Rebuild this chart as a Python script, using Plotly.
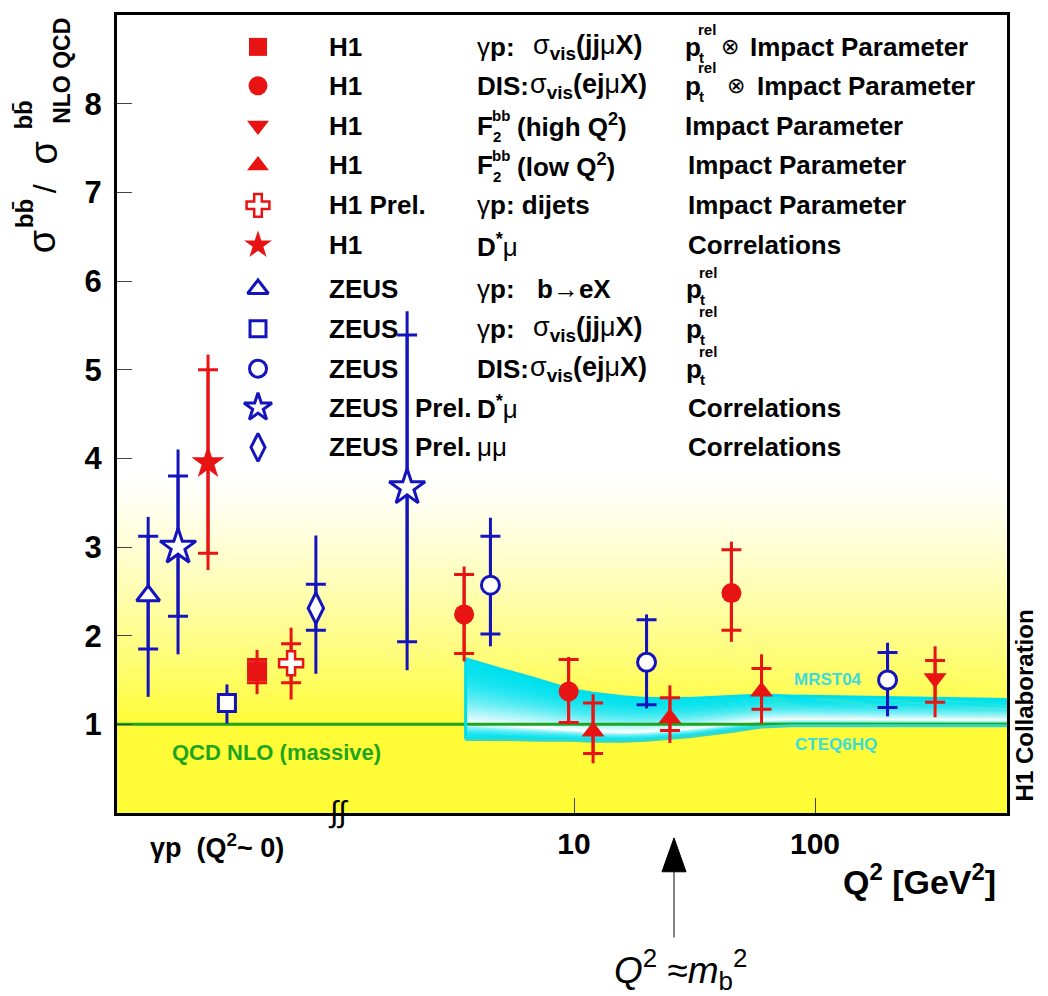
import plotly.graph_objects as go

# ---------------- data ----------------
# ratio sigma(bb)/sigma_NLO(bb) ; inner ticks = stat. error, full bar = total error
# photoproduction points (Q^2 ~ 0) sit at display slots left of the axis break

# H1  gamma-p  sigma_vis(jj mu X)          (filled square)
h1_gpjj_q2 = [0.484]
h1_gpjj_r = [1.60]
h1_gpjj_st_up = [0.13]
h1_gpjj_st_dn = [0.13]
h1_gpjj_tot_up = [0.24]
h1_gpjj_tot_dn = [0.26]

# H1  DIS  sigma_vis(e j mu X)             (filled circle)
h1_dis_q2 = [3.5, 9.5, 45]
h1_dis_r = [2.24, 1.37, 2.48]
h1_dis_st_up = [0.45, 0.36, 0.49]
h1_dis_st_dn = [0.44, 0.35, 0.42]
h1_dis_tot_up = [0.54, 0.39, 0.58]
h1_dis_tot_dn = [0.53, 0.37, 0.55]

# H1  F2bb (high Q2)                       (filled down triangle)
h1_f2hi_q2 = [315]
h1_f2hi_r = [1.52]
h1_f2hi_st_up = [0.20]
h1_f2hi_st_dn = [0.27]
h1_f2hi_tot_up = [0.36]
h1_f2hi_tot_dn = [0.44]

# H1  F2bb (low Q2)                        (filled up triangle)
h1_f2lo_q2 = [12, 25, 60]
h1_f2lo_r = [0.92, 1.07, 1.37]
h1_f2lo_st_up = [0.32, 0.23, 0.26]
h1_f2lo_st_dn = [0.25, 0.14, 0.20]
h1_f2lo_tot_up = [0.42, 0.37, 0.42]
h1_f2lo_tot_dn = [0.36, 0.28, 0.36]

# H1 Prel.  gamma-p dijets                 (open cross)
h1_dij_q2 = [0.670]
h1_dij_r = [1.69]
h1_dij_st_up = [0.22]
h1_dij_st_dn = [0.22]
h1_dij_tot_up = [0.40]
h1_dij_tot_dn = [0.41]

# H1  D* mu                                (filled star)
h1_dsmu_q2 = [0.303]
h1_dsmu_r = [3.95]
h1_dsmu_st_up = [1.05]
h1_dsmu_st_dn = [1.02]
h1_dsmu_tot_up = [1.22]
h1_dsmu_tot_dn = [1.21]

# ZEUS  gamma-p  b -> eX                   (open triangle)
z_bex_q2 = [0.171]
z_bex_r = [2.45]
z_bex_st_up = [0.67]
z_bex_st_dn = [0.60]
z_bex_tot_up = [0.89]
z_bex_tot_dn = [1.14]

# ZEUS  gamma-p  sigma_vis(jj mu X)        (open square)
z_gpjj_q2 = [0.363]
z_gpjj_r = [1.24]
z_gpjj_st_up = [0.05]
z_gpjj_st_dn = [0.05]
z_gpjj_tot_up = [0.21]
z_gpjj_tot_dn = [0.23]

# ZEUS  DIS  sigma_vis(e j mu X)           (open circle)
z_dis_q2 = [4.5, 20, 200]
z_dis_r = [2.57, 1.70, 1.50]
z_dis_st_up = [0.55, 0.48, 0.31]
z_dis_st_dn = [0.55, 0.48, 0.31]
z_dis_tot_up = [0.76, 0.54, 0.42]
z_dis_tot_dn = [0.69, 0.52, 0.41]

# ZEUS Prel.  D* mu                        (open star)
z_dsmu_q2 = [0.2275, 2.03]
z_dsmu_r = [3.00, 3.67]
z_dsmu_st_up = [0.80, 1.72]
z_dsmu_st_dn = [0.78, 1.74]
z_dsmu_tot_up = [1.10, 1.99]
z_dsmu_tot_dn = [1.21, 2.06]

# ZEUS Prel.  mu mu                        (open diamond)
z_mumu_q2 = [0.849]
z_mumu_r = [2.31]
z_mumu_st_up = [0.27]
z_mumu_st_dn = [0.25]
z_mumu_tot_up = [0.82]
z_mumu_tot_dn = [0.74]

# NLO QCD (massive) reference and MRST04 / CTEQ6HQ band
qcd_nlo_ratio = 1.0
band_q2 = [3.55, 5, 7, 9.5, 12, 16, 20, 30, 45, 60, 80, 120, 200, 350, 650]
band_hi = [1.74, 1.62, 1.51, 1.40, 1.35, 1.31, 1.29, 1.29, 1.31, 1.33, 1.32, 1.31, 1.30, 1.29, 1.28]
band_lo = [0.83, 0.83, 0.82, 0.82, 0.81, 0.81, 0.82, 0.86, 0.92, 0.97, 0.985, 0.985, 0.985, 0.985, 0.985]

x_tick_vals = [10, 100]
x_tick_text = ["10", "100"]
y_tick_vals = [1, 2, 3, 4, 5, 6, 7, 8]

# ---------------- styling ----------------
RED = "rgb(232,20,20)"
BLUE = "rgb(20,20,190)"
GREEN = "rgb(30,165,30)"
CYAN = (0, 226, 238)
YELLOW = (255, 252, 55)
FONT = "Liberation Sans, Arial, Helvetica, sans-serif"

W, H = 1048, 996
L, R, T, B = 117, 1007, 12, 813


def px(x):
    return (x - L) / (R - L)


def py(y):
    return (B - y) / (B - T)


def mix(c1, c2, t):
    return "rgb(%d,%d,%d)" % tuple(round(a + (b - a) * t) for a, b in zip(c1, c2))


fig = go.Figure()

# ---- background gradient (white -> yellow toward the bottom) ----
shapes = [dict(type="rect", xref="paper", yref="y", x0=0, x1=1, y0=0, y1=1.02,
               fillcolor=mix(YELLOW, YELLOW, 0), line_width=0, layer="below")]
g_lo, g_hi, NG = 1.0, 3.85, 70
for i in range(NG):
    v0 = g_lo + (g_hi - g_lo) * i / NG
    v1 = g_lo + (g_hi - g_lo) * (i + 1.3) / NG
    t = ((g_hi - (v0 + v1) / 2) / (g_hi - g_lo)) ** 1.25
    shapes.append(dict(type="rect", xref="paper", yref="y", x0=0, x1=1, y0=v0, y1=v1,
                       fillcolor=mix((255, 255, 255), YELLOW, t), line_width=0, layer="below"))

# ---- theory band with tube-like shading ----
K = 32
for i in range(K):
    f0 = i / K
    f1 = min(1.0, (i + 1.5) / K)
    fm = (i + 0.5) / K
    w = fm / 0.8 if fm < 0.8 else (1 - fm) / 0.2
    w = max(0.0, min(1.0, w)) ** 2.0
    col = mix(CYAN, (255, 255, 255), w)
    top = [h - f0 * (h - l) for h, l in zip(band_hi, band_lo)]
    bot = [h - f1 * (h - l) for h, l in zip(band_hi, band_lo)]
    fig.add_trace(go.Scatter(x=band_q2 + band_q2[::-1], y=top + bot[::-1], mode="lines",
                             fill="toself", fillcolor=col, line=dict(width=0, color=col),
                             hoverinfo="skip", showlegend=False))

# QCD NLO line at 1
fig.add_trace(go.Scatter(x=[0.05, 1000], y=[qcd_nlo_ratio, qcd_nlo_ratio], mode="lines",
                         line=dict(color=GREEN, width=3), hoverinfo="skip", showlegend=False))
# band edges
fig.add_trace(go.Scatter(x=[band_q2[0]] + band_q2, y=[band_lo[0]] + band_hi, mode="lines",
                         line=dict(color="rgb(0,222,238)", width=3), hoverinfo="skip", showlegend=False))
fig.add_trace(go.Scatter(x=band_q2, y=band_lo, mode="lines",
                         line=dict(color="rgb(55,215,200)", width=3), hoverinfo="skip", showlegend=False))


# ---- data points ----
def mk_filled(sym, size, color):
    return dict(symbol=sym, size=size, color=color, line=dict(width=0))


def mk_open(sym, size, color, lw=3):
    return dict(symbol=sym, size=size, color="white", line=dict(width=lw, color=color))


series = [
    (h1_gpjj_q2, h1_gpjj_r, h1_gpjj_st_up, h1_gpjj_st_dn, h1_gpjj_tot_up, h1_gpjj_tot_dn, RED, mk_filled("square", 20, RED)),
    (h1_dis_q2, h1_dis_r, h1_dis_st_up, h1_dis_st_dn, h1_dis_tot_up, h1_dis_tot_dn, RED, mk_filled("circle", 20, RED)),
    (h1_f2hi_q2, h1_f2hi_r, h1_f2hi_st_up, h1_f2hi_st_dn, h1_f2hi_tot_up, h1_f2hi_tot_dn, RED, mk_filled("triangle-down", 20, RED)),
    (h1_f2lo_q2, h1_f2lo_r, h1_f2lo_st_up, h1_f2lo_st_dn, h1_f2lo_tot_up, h1_f2lo_tot_dn, RED, mk_filled("triangle-up", 20, RED)),
    (h1_dij_q2, h1_dij_r, h1_dij_st_up, h1_dij_st_dn, h1_dij_tot_up, h1_dij_tot_dn, RED, mk_open("cross", 20, RED, 2.5)),
    (h1_dsmu_q2, h1_dsmu_r, h1_dsmu_st_up, h1_dsmu_st_dn, h1_dsmu_tot_up, h1_dsmu_tot_dn, RED, mk_filled("star", 25, RED)),
    (z_bex_q2, z_bex_r, z_bex_st_up, z_bex_st_dn, z_bex_tot_up, z_bex_tot_dn, BLUE, mk_open("triangle-up", 20, BLUE)),
    (z_gpjj_q2, z_gpjj_r, z_gpjj_st_up, z_gpjj_st_dn, z_gpjj_tot_up, z_gpjj_tot_dn, BLUE, mk_open("square", 17, BLUE)),
    (z_dis_q2, z_dis_r, z_dis_st_up, z_dis_st_dn, z_dis_tot_up, z_dis_tot_dn, BLUE, mk_open("circle", 18, BLUE)),
    (z_dsmu_q2, z_dsmu_r, z_dsmu_st_up, z_dsmu_st_dn, z_dsmu_tot_up, z_dsmu_tot_dn, BLUE, mk_open("star", 27, BLUE)),
    (z_mumu_q2, z_mumu_r, z_mumu_st_up, z_mumu_st_dn, z_mumu_tot_up, z_mumu_tot_dn, BLUE, mk_open("diamond-tall", 22, BLUE)),
]

for q2, r, su, sd, tu, td, col, mk in series:
    fig.add_trace(go.Scatter(x=q2, y=r, mode="markers", marker=dict(size=0, color=col),
                             error_y=dict(type="data", symmetric=False, array=tu, arrayminus=td,
                                          color=col, thickness=3, width=0),
                             hoverinfo="skip", showlegend=False))
    fig.add_trace(go.Scatter(x=q2, y=r, mode="markers", marker=mk,
                             error_y=dict(type="data", symmetric=False, array=su, arrayminus=sd,
                                          color=col, thickness=3, width=10),
                             showlegend=False))

# ---- custom legend (symbols on an overlay axis in plot-fraction units) ----
leg_rows = [44, 83, 123, 163, 203, 243, 287, 327, 367, 406, 446]
leg_markers = [
    mk_filled("square", 18, RED), mk_filled("circle", 19, RED), mk_filled("triangle-down", 19, RED),
    mk_filled("triangle-up", 19, RED), mk_open("cross", 19, RED, 2.5), mk_filled("star", 21, RED),
    mk_open("triangle-up", 18, BLUE), mk_open("square", 16, BLUE), mk_open("circle", 17, BLUE),
    mk_open("star", 21, BLUE), mk_open("diamond-tall", 20, BLUE),
]
for yy, mk in zip(leg_rows, leg_markers):
    fig.add_trace(go.Scatter(x=[px(258)], y=[py(yy)], xaxis="x2", yaxis="y2", mode="markers",
                             marker=mk, hoverinfo="skip", showlegend=False, cliponaxis=False))

ann = []


def text(x, y, s, size=26, anchor="left", color="black", angle=0, yanchor="middle"):
    ann.append(dict(x=px(x), y=py(y), xref="paper", yref="paper", text=s, showarrow=False,
                    xanchor=anchor, yanchor=yanchor, textangle=angle,
                    font=dict(family=FONT, size=size, color=color)))


col_a = ["H1", "H1", "H1", "H1", "H1 Prel.", "H1", "ZEUS", "ZEUS", "ZEUS", "ZEUS", "ZEUS"]
for yy, s in zip(leg_rows, col_a):
    text(327, yy, "<b>%s</b>" % s)
for yy in leg_rows[9:]:
    text(413, yy, "<b>Prel.</b>")

GP = "γ<b>p:</b>"
SIGV_JJ = "σ<sub><b>vis</b></sub><b>(jj</b>μ<b>X)</b>"
SIGV_EJ = "σ<sub><b>vis</b></sub><b>(ej</b>μ<b>X)</b>"
text(475, leg_rows[0], GP)
text(531, leg_rows[0], SIGV_JJ, size=27)
text(475, leg_rows[1], "<b>DIS:</b>")
text(528, leg_rows[1], SIGV_EJ, size=27)
for yy, s in [(leg_rows[2], "(high Q<sup>2</sup>)"), (leg_rows[3], "(low Q<sup>2</sup>)")]:
    text(475, yy, "<b>F</b>")
    text(490, yy - 10, "<b>bb</b>", size=15)
    text(491, yy + 11, "<b>2</b>", size=15)
    text(515, yy, "<b>%s</b>" % s)
text(475, leg_rows[4], "γ<b>p: dijets</b>")
text(475, leg_rows[5], "<b>D<sup>*</sup></b>μ")
text(475, leg_rows[6], GP)
text(535, leg_rows[6], "<b>b</b>→<b>eX</b>")
text(475, leg_rows[7], GP)
text(531, leg_rows[7], SIGV_JJ, size=27)
text(475, leg_rows[8], "<b>DIS:</b>")
text(528, leg_rows[8], SIGV_EJ, size=27)
text(475, leg_rows[9], "<b>D<sup>*</sup></b>μ")
text(475, leg_rows[10], "μμ")


def ptrel(x, yy, dy_rel=-17):
    text(x, yy, "<b>p</b>")
    text(x + 14, yy + 11, "<b>t</b>", size=15)
    text(x + 13, yy + dy_rel, "<b>rel</b>", size=15)


ptrel(683, leg_rows[0])
text(719, leg_rows[0], "⊗", size=22)
text(748, leg_rows[0], "<b>Impact Parameter</b>")
ptrel(683, leg_rows[1], -18)
text(725, leg_rows[1], "⊗", size=22)
text(755, leg_rows[1], "<b>Impact Parameter</b>")
text(683, leg_rows[2], "<b>Impact Parameter</b>")
text(686, leg_rows[3], "<b>Impact Parameter</b>")
text(686, leg_rows[4], "<b>Impact Parameter</b>")
text(686, leg_rows[5], "<b>Correlations</b>")
for yy in leg_rows[6:9]:
    ptrel(684, yy)
text(686, leg_rows[9], "<b>Correlations</b>")
text(686, leg_rows[10], "<b>Correlations</b>")

# ---- curve labels ----
text(276, 752, "<b>QCD NLO (massive)</b>", size=22, anchor="center", color=GREEN)
text(828, 679, "<b>MRST04</b>", size=17, anchor="center", color="rgb(60,220,220)")
text(836, 744, "<b>CTEQ6HQ</b>", size=17, anchor="center", color="rgb(60,220,220)")

# ---- y-axis title (rotated, stacked super/subscripts) ----
text(42, 240, "σ", size=38, anchor="center", angle=-90)
text(24, 212, "<b>bb\u0304</b>", size=24, anchor="center", angle=-90)
text(45, 187, "/", size=32, anchor="center", angle=-90)
text(44, 151, "σ", size=38, anchor="center", angle=-90)
text(24, 113, "<b>bb\u0304</b>", size=24, anchor="center", angle=-90)
text(62, 68, "<b>NLO QCD</b>", size=23, anchor="center", angle=-90)

# ---- x-axis texts ----
text(217, 846, "<b>γp  (Q<sup>2</sup>~ 0)</b>", size=27, anchor="center")
text(338, 812, "∫∫", size=30, anchor="center")
text(919, 880, "<b>Q<sup>2</sup> [GeV<sup>2</sup>]</b>", size=34, anchor="center")
text(1024, 705, "<b>H1 Collaboration</b>", size=24, anchor="center", angle=-90)
text(680, 970, "<i>Q</i><sup>2</sup> ≈<i>m</i><sub>b</sub><sup>2</sup>", size=37, anchor="center")

# arrow marking Q^2 ~ m_b^2
shapes.append(dict(type="line", xref="paper", yref="paper", x0=px(674), x1=px(674),
                   y0=py(938), y1=py(866), line=dict(color="#333", width=1.2)))
shapes.append(dict(type="path", xref="paper", yref="paper",
                   path="M %f %f L %f %f L %f %f Z" % (px(674), py(838), px(662), py(872), px(686), py(872)),
                   fillcolor="black", line=dict(color="black", width=1)))

fig.update_layout(
    width=W, height=H,
    margin=dict(l=L, r=W - R, t=T, b=H - B),
    paper_bgcolor="white", plot_bgcolor="white",
    shapes=shapes, annotations=ann,
    font=dict(family=FONT, color="black"),
    xaxis=dict(type="log", range=[-0.8963, 2.7967], tickvals=x_tick_vals, ticktext=x_tick_text,
               ticks="inside", ticklen=15, tickwidth=1, tickcolor="#444",
               showgrid=False, zeroline=False, showline=True, linecolor="black", linewidth=3,
               mirror=True, ticklabelstandoff=2,
               tickfont=dict(family=FONT, size=30, color="black", weight="bold")),
    yaxis=dict(range=[0, 9], tickvals=y_tick_vals, ticks="inside", ticklen=15, tickwidth=1,
               tickcolor="#444", showgrid=False, zeroline=False, showline=True,
               linecolor="black", linewidth=3, mirror=True, ticklabelstandoff=6,
               tickfont=dict(family=FONT, size=31, color="black", weight="bold")),
    xaxis2=dict(overlaying="x", range=[0, 1], visible=False),
    yaxis2=dict(overlaying="y", range=[0, 1], visible=False),
    showlegend=False,
)

fig.write_html("out.html")
